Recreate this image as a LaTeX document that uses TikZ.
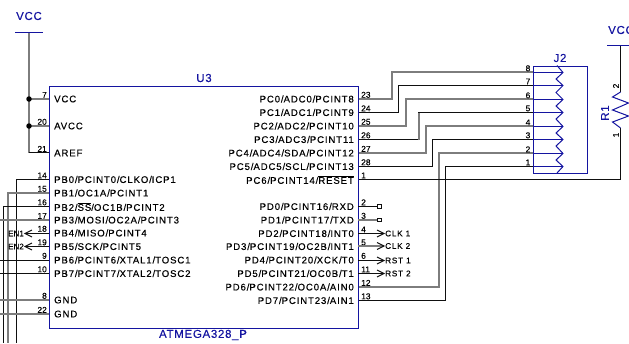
\documentclass[tikz,border=0pt]{standalone}
\usepackage{fontspec}
\setmainfont{Liberation Sans}
\definecolor{sblue}{RGB}{20,20,160}
\definecolor{swire}{RGB}{15,15,15}
\definecolor{sgray}{RGB}{125,125,125}
\tikzset{x=1pt,y=-1pt,
 wk/.style={draw=swire,line width=1pt},
 wg/.style={draw=sgray,line width=2pt},
 part/.style={draw=sblue,line width=1pt},
 pintext/.style={inner sep=0pt,font=\fontsize{9.6}{10}\selectfont\addfontfeature{LetterSpace=9,FakeBold=0.25},text=black},
 pinnum/.style={inner sep=0pt,font=\fontsize{8.4}{9}\selectfont\addfontfeature{FakeBold=0.25},text=black},
 netname/.style={inner sep=0pt,font=\fontsize{8.2}{9}\selectfont\addfontfeature{LetterSpace=9,FakeBold=0.25},text=black},
 enname/.style={inner sep=0pt,font=\fontsize{8}{9}\selectfont\addfontfeature{FakeBold=0.25},text=black},
 blueref/.style={inner sep=0pt,font=\fontsize{11.5}{12}\selectfont\addfontfeature{LetterSpace=6,FakeBold=0.2},text=sblue},
 dotj/.style={circle,fill=black,inner sep=0pt,minimum size=5.5pt},
}
\begin{document}
\begin{tikzpicture}
\useasboundingbox (0,0) rectangle (629,343);
% wires to the chip, left side
\draw[wg] (29,33) -- (29,153);
\draw[wg] (29,99) -- (49,99);
\draw[wg] (29,126) -- (49,126);
\draw[wk] (29,152.5) -- (49,152.5);
\draw[wk] (49,179.5) -- (16.5,179.5) -- (16.5,343);
\draw[wg] (49,193) -- (8,193) -- (8,343);
\draw[wk] (49,206.5) -- (3.5,206.5) -- (3.5,343);
\draw[wg] (49,220) -- (0,220);
\draw[wk] (49,260.5) -- (0,260.5);
\draw[wk] (49,273.5) -- (0,273.5);
\draw[wg] (49,300) -- (0,300);
\draw[wg] (49,314) -- (0,314);
\draw[wk] (49,233.5) -- (25,233.5);
\draw[wk] (32,230) -- (25,233.5) -- (32,237);
\draw[wk] (49,246.5) -- (25,246.5);
\draw[wk] (32,243) -- (25,246.5) -- (32,250);
% buses to J2
\draw[wg] (358,99) -- (392,99) -- (392,72) -- (533,72);
\draw[wk] (358,112.5) -- (398.5,112.5) -- (398.5,85.5) -- (533,85.5);
\draw[wg] (358,126) -- (406,126) -- (406,99) -- (533,99);
\draw[wk] (358,139.5) -- (418,139.5);
\draw[wg] (419,140) -- (419,112);
\draw[wk] (418,112.5) -- (533,112.5);
\draw[wg] (358,153) -- (426,153) -- (426,126) -- (533,126);
\draw[wk] (358,166.5) -- (432.5,166.5) -- (432.5,139.5) -- (533,139.5);
\draw[wg] (358,287) -- (439,287) -- (439,153) -- (533,153);
\draw[wk] (358,300.5) -- (445.5,300.5) -- (445.5,166.5) -- (533,166.5);
% reset to R1
\coordinate (rb) at (620.5,128);
\coordinate (rt) at (620.5,92);
\draw[wk] (358,179.5) -- (620.5,179.5) -- (rb);
\draw[wk] (rt) -- (620.5,45.5);
% chip
\node[part,minimum width=309pt,minimum height=242pt,anchor=north west,inner sep=0pt] (u3) at (48.8,85.5) {};
\node[blueref] (u3name) at (204,78) {U3};
\node[blueref] (u3val) at (203,335) {ATMEGA328\_P};
% J2
\node[part,minimum width=54pt,minimum height=107.5pt,anchor=north west,inner sep=0pt] (j2) at (532.8,65.5) {};
\node[blueref,anchor=center] (j2name) at (560,58) {J2};
\foreach \y/\n in {72.5/8,85.5/7,99.5/6,112.5/5,126.5/4,139.5/3,153.5/2,166.5/1}{
  \draw[part] (533,\y) -- (563,\y);
  \node[pinnum,anchor=south east] (jn\n) at (530.5,\y-1) {\n};
}
\draw[part] (557,65.5) -- (563,72.5) -- (556,79) -- (563,85.5) -- (556,92.5) -- (563,99.5) -- (556,106) -- (563,112.5) -- (556,119) -- (563,126.5) -- (556,133) -- (563,139.5) -- (556,146) -- (563,153.5) -- (556,160) -- (563,166.5) -- (557,173);
% left VCC
\draw[part] (15,32.5) -- (43,32.5);
\node[blueref] (vcc1) at (29,16) {VCC};
\node[dotj] (d1) at (29,99) {};
\node[dotj] (d2) at (29,126) {};
% left pins
\foreach \y/\n/\t in {99/7/VCC,126/20/AVCC,153/21/AREF,
 179.5/14/PB0\slash PCINT0\slash CLKO\slash ICP1,
 193/15/PB1\slash OC1A\slash PCINT1,
 206.5/16/PB2\slash$\overline{\mbox{SS}}$\slash OC1B\slash PCINT2,
 220/17/PB3\slash MOSI\slash OC2A\slash PCINT3,
 233/18/PB4\slash MISO\slash PCINT4,
 246.5/19/PB5\slash SCK\slash PCINT5,
 260/9/PB6\slash PCINT6\slash XTAL1\slash TOSC1,
 273.5/10/PB7\slash PCINT7\slash XTAL2\slash TOSC2,
 300/8/GND,314/22/GND}{
  \node[pinnum,anchor=south east] at (47,\y-1) {\n};
  \node[pintext,anchor=west] at (54,\y) {\t};
}
\node[enname,anchor=east] (en1) at (24,233.5) {EN1};
\node[enname,anchor=east] (en2) at (24,246.5) {EN2};
% right pins
\foreach \y/\n/\t in {99/23/PC0\slash ADC0\slash PCINT8,
 112.5/24/PC1\slash ADC1\slash PCINT9,
 126/25/PC2\slash ADC2\slash PCINT10,
 139.5/26/PC3\slash ADC3\slash PCINT11,
 153/27/PC4\slash ADC4\slash SDA\slash PCINT12,
 166.5/28/PC5\slash ADC5\slash SCL\slash PCINT13,
 179.5/1/PC6\slash PCINT14\slash$\overline{\mbox{RESET}}$,
 206.5/2/PD0\slash PCINT16\slash RXD,
 220/3/PD1\slash PCINT17\slash TXD,
 233.5/4/PD2\slash PCINT18\slash INT0,
 246.5/5/PD3\slash PCINT19\slash OC2B\slash INT1,
 260/6/PD4\slash PCINT20\slash XCK\slash T0,
 273.5/11/PD5\slash PCINT21\slash OC0B\slash T1,
 287/12/PD6\slash PCINT22\slash OC0A\slash AIN0,
 300.5/13/PD7\slash PCINT23\slash AIN1}{
  \node[pinnum,anchor=south west] at (361,\y-1) {\n};
  \node[pintext,anchor=east] at (354,\y) {\t};
}
% R1
\draw[part] (rt) -- (612.5,97) -- (628.5,103) -- (612.5,110) -- (628.5,116) -- (612.5,122) -- (rb);
\draw[part] (607,45.5) -- (629,45.5);
\node[blueref,anchor=west] (vcc2) at (608,30) {VCC};
\node[blueref,rotate=90] (r1) at (605,113) {R1};
\node[pinnum,rotate=90] (r1a) at (616,86) {2};
\node[pinnum,rotate=90] (r1b) at (616,135) {1};
% small pads
\draw[wk] (358,206.5) -- (378,206.5);
\node[draw=swire,line width=.8pt,inner sep=0pt,minimum size=3.5pt] (p1) at (379.5,206.5) {};
\draw[wg] (358,220) -- (378,220);
\node[draw=swire,line width=.8pt,inner sep=0pt,minimum size=3.5pt] (p2) at (379.5,220) {};
% output arrows
\foreach \y/\t/\s in {233.5/CLK 1/wk,246/CLK 2/wg,260.5/RST 1/wk,273.5/RST 2/wk}{
  \draw[\s] (358,\y) -- (384,\y);
  \draw[wk] (377,\y-3.5) -- (384,\y) -- (377,\y+3.5);
  \node[netname,anchor=west] at (385,\y) {\t};
}
\end{tikzpicture}
\end{document}
